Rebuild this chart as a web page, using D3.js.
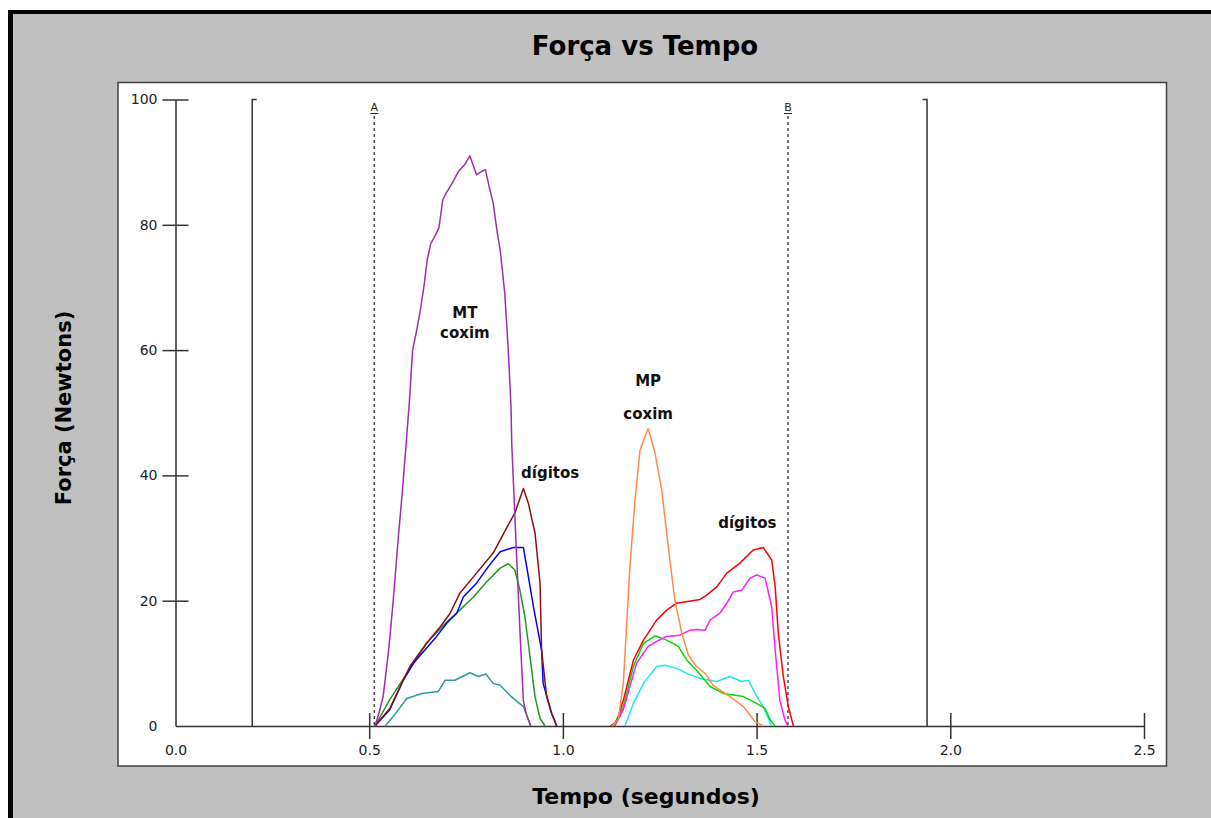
<!DOCTYPE html>
<html>
<head>
<meta charset="utf-8">
<script src="https://cdnjs.cloudflare.com/ajax/libs/d3/7.8.5/d3.min.js"></script>
<style>
  body { margin: 0; background: #fff; }
  svg { display: block; }
  text { font-family: "DejaVu Sans", "Liberation Sans", Arial, sans-serif; }
</style>
</head>
<body>
<div class="canvas"></div>
<script>
//                      DATA
//************************************************************************/
// each series: [tempo (s), força (N)]

// MT coxim (purple)
const mtCoxim = [
  [0.515, 0], [0.525, 2], [0.536, 4.7], [0.55, 12], [0.562, 20], [0.575, 30],
  [0.585, 37], [0.594, 44], [0.604, 52], [0.612, 60], [0.622, 63], [0.631, 66],
  [0.641, 70], [0.65, 74.5], [0.659, 77], [0.668, 78], [0.68, 79.5], [0.69, 84],
  [0.698, 85], [0.713, 86.5], [0.73, 88.5], [0.745, 89.5], [0.76, 91], [0.777, 88],
  [0.79, 88.5], [0.80, 88.8], [0.81, 86], [0.82, 83.5], [0.83, 79], [0.838, 76],
  [0.845, 72], [0.85, 69], [0.855, 64], [0.859, 60], [0.866, 51], [0.868, 45],
  [0.875, 35], [0.882, 25], [0.89, 14], [0.898, 4], [0.905, 2], [0.917, 0]
];
// MT digitos
const mtDigito1 = [ // dark red
  [0.515, 0], [0.553, 2.8], [0.588, 7.3], [0.605, 9.5], [0.648, 13.2], [0.683, 15.8],
  [0.709, 18], [0.734, 21.2], [0.777, 24.4], [0.82, 27.6], [0.859, 32.1], [0.876, 34],
  [0.898, 37.9], [0.911, 35.5], [0.928, 30.8], [0.941, 22.8], [0.945, 12.1],
  [0.958, 4.7], [0.971, 2], [0.984, 0]
];
const mtDigito2 = [ // blue
  [0.515, 0], [0.553, 2.6], [0.588, 7.3], [0.614, 10], [0.674, 14.3], [0.70, 16.4],
  [0.726, 18], [0.743, 20.6], [0.777, 22.8], [0.807, 25.4], [0.838, 27.8], [0.872, 28.5],
  [0.898, 28.5], [0.911, 23.8], [0.924, 19], [0.945, 12.1], [0.949, 6.8],
  [0.971, 2], [0.984, 0]
];
const mtDigito3 = [ // green
  [0.515, 0], [0.553, 4.2], [0.588, 7.5], [0.648, 13.2], [0.70, 16.6], [0.734, 18.5],
  [0.769, 20.6], [0.803, 23], [0.838, 25.2], [0.859, 25.9], [0.876, 24.9], [0.889, 21.7],
  [0.902, 17.4], [0.915, 11.1], [0.928, 4.7], [0.941, 1.2], [0.954, 0]
];
const mtDigito4 = [ // teal
  [0.541, 0], [0.562, 1.5], [0.597, 4.4], [0.636, 5.2], [0.678, 5.5], [0.696, 7.3],
  [0.721, 7.3], [0.76, 8.5], [0.782, 7.9], [0.801, 8.3], [0.82, 6.8], [0.838, 6.5],
  [0.863, 4.9], [0.898, 3.1], [0.917, 0]
];
// MP coxim (orange)
const mpCoxim = [
  [1.126, 0], [1.143, 1], [1.156, 6.8], [1.173, 25.4], [1.186, 36], [1.199, 44],
  [1.22, 47.5], [1.238, 43.5], [1.255, 37.7], [1.272, 28.6], [1.289, 20.1],
  [1.307, 14.8], [1.324, 11.3], [1.345, 9.5], [1.367, 8.4], [1.388, 6.5],
  [1.431, 4.7], [1.466, 3.1], [1.496, 0.7], [1.517, 0]
];
// MP digitos
const mpDigito1 = [ // red
  [1.122, 0], [1.139, 0.7], [1.156, 4.1], [1.182, 10.5], [1.208, 13.7], [1.242, 16.9],
  [1.268, 18.5], [1.294, 19.6], [1.354, 20.2], [1.371, 20.9], [1.397, 22.2],
  [1.423, 24.4], [1.457, 26], [1.491, 28.1], [1.517, 28.5], [1.539, 26.5],
  [1.548, 22.2], [1.556, 14.8], [1.569, 7.9], [1.582, 3.1], [1.595, 0]
];
const mpDigito2 = [ // magenta
  [1.134, 0], [1.156, 2.6], [1.19, 10], [1.22, 12.7], [1.242, 13.5], [1.268, 14.3],
  [1.302, 14.5], [1.328, 15.3], [1.345, 15.4], [1.367, 15.3], [1.38, 16.9],
  [1.405, 18], [1.423, 19.6], [1.44, 21.4], [1.462, 21.7], [1.483, 23.6], [1.50, 24.1],
  [1.522, 23.6], [1.539, 19], [1.548, 12.1], [1.56, 4.1], [1.573, 1], [1.58, 0]
];
const mpDigito3 = [ // lime
  [1.13, 0], [1.156, 3.1], [1.182, 9.5], [1.208, 13.2], [1.238, 14.4], [1.268, 13.7],
  [1.298, 12.7], [1.32, 10.5], [1.345, 8.9], [1.38, 6.3], [1.414, 5.2], [1.466, 4.7],
  [1.50, 3.6], [1.522, 2.8], [1.535, 1], [1.548, 0]
];
const mpDigito4 = [ // cyan
  [1.16, 0], [1.182, 3.6], [1.208, 6.8], [1.242, 9.5], [1.264, 9.7], [1.294, 9.2],
  [1.32, 8.4], [1.354, 7.6], [1.397, 7.1], [1.431, 7.9], [1.462, 7.1], [1.479, 7.3],
  [1.496, 5.2], [1.517, 3.1], [1.539, 0]
];

// axis ticks
const xTicks = [0.0, 0.5, 1.0, 1.5, 2.0, 2.5];
const yTicks = [0, 20, 40, 60, 80, 100];

// cursors (solid) and markers (dashed)
const cursors = [0.198, 1.94];
const markers = [{ t: 0.513, name: 'A' }, { t: 1.581, name: 'B' }];

// text annotations [tempo, forca, texto]
const notes = [
  [0.747, 65.1, 'MT'], [0.747, 61.9, 'coxim'],
  [0.967, 39.6, 'dígitos'],
  [1.22, 54.3, 'MP'], [1.22, 49.0, 'coxim'],
  [1.476, 31.6, 'dígitos']
];

//                      SETUP SVG
//************************************************************************/
const W = 1211, H = 818;
const svg = d3.select('.canvas')
    .append('svg')
    .attr('width', W)
    .attr('height', H);

// window frame
svg.append('rect').attr('width', W).attr('height', H).attr('fill', '#fff');
svg.append('rect').attr('x', 8).attr('y', 10).attr('width', W - 8).attr('height', H - 10).attr('fill', '#000');
svg.append('rect').attr('x', 13).attr('y', 14).attr('width', W - 13).attr('height', H - 14).attr('fill', '#c0c0c0');

// plot box
svg.append('rect')
    .attr('x', 118).attr('y', 82.5)
    .attr('width', 1166.5 - 118).attr('height', 766 - 82.5)
    .attr('fill', '#fff')
    .attr('stroke', '#404040')
    .attr('stroke-width', 1.5);

// scales
const x = d3.scaleLinear().domain([0, 2.5]).range([175.5, 1144]);
const y = d3.scaleLinear().domain([0, 100]).range([726, 99.5]);

// axes
const yAxis = d3.axisLeft(y).tickValues(yTicks).tickSizeOuter(0).tickFormat(d3.format('d'));
const yAxisGroup = svg.append('g').attr('transform', `translate(${x(0)},0)`).call(yAxis);
yAxisGroup.selectAll('.tick line').attr('x1', -13).attr('x2', 13)
    .style('display', d => d === 0 ? 'none' : null);
yAxisGroup.selectAll('.tick text').attr('x', -18);

const xAxis = d3.axisBottom(x).tickValues(xTicks).tickSizeOuter(0).tickFormat(d3.format('.1f'));
const xAxisGroup = svg.append('g').attr('transform', `translate(0,${y(0)})`).call(xAxis);
xAxisGroup.selectAll('.tick line').attr('y1', -13).attr('y2', 13)
    .style('display', d => d === 0 ? 'none' : null);
xAxisGroup.selectAll('.tick text').attr('y', 19);

[yAxisGroup, xAxisGroup].forEach(g => {
    g.select('.domain').attr('stroke', '#333').attr('stroke-width', 1.5);
    g.selectAll('.tick line').attr('stroke', '#333').attr('stroke-width', 1.5);
    g.selectAll('.tick text')
        .attr('fill', '#222')
        .style('font-family', '"DejaVu Sans", sans-serif')
        .style('font-size', '14px');
});

// cursors
cursors.forEach((t, i) => {
    const cx = x(t);
    const hook = i === 0 ? 4.5 : -4.5;
    svg.append('path')
        .attr('d', `M${cx + hook},${y(100)}H${cx}V${y(0)}`)
        .attr('fill', 'none')
        .attr('stroke', '#333')
        .attr('stroke-width', 1.5);
});

// markers A / B
markers.forEach(m => {
    const mx = x(m.t);
    svg.append('line')
        .attr('x1', mx).attr('x2', mx)
        .attr('y1', 116).attr('y2', y(0))
        .attr('stroke', '#333')
        .attr('stroke-width', 1.3)
        .attr('stroke-dasharray', '3,3');
    svg.append('text')
        .attr('x', mx).attr('y', 111)
        .attr('text-anchor', 'middle')
        .style('font-size', '11px')
        .attr('fill', '#222')
        .text(m.name);
    svg.append('line')
        .attr('x1', mx - 4).attr('x2', mx + 4)
        .attr('y1', 113.5).attr('y2', 113.5)
        .attr('stroke', '#222');
});

// lines
const series = [
    { data: mtDigito4, color: '#2e9b9b' },
    { data: mtDigito3, color: '#1f9a1f' },
    { data: mtDigito2, color: '#0000ff' },
    { data: mtDigito1, color: '#8b1111' },
    { data: mtCoxim, color: '#a02cb0' },
    { data: mpDigito4, color: '#1ce6f5' },
    { data: mpDigito3, color: '#00dd00' },
    { data: mpDigito2, color: '#ff1eff' },
    { data: mpDigito1, color: '#ff0000' },
    { data: mpCoxim, color: '#ff8a4a' }
];

const line = d3.line()
    .x(d => x(d[0]))
    .y(d => y(d[1]));

svg.append('g').selectAll('path')
    .data(series)
    .enter()
    .append('path')
    .attr('d', d => line(d.data))
    .attr('fill', 'none')
    .attr('stroke', d => d.color)
    .attr('stroke-width', 1.5)
    .attr('stroke-linejoin', 'round');

// annotations
svg.append('g').selectAll('text')
    .data(notes)
    .enter()
    .append('text')
    .attr('x', d => x(d[0]))
    .attr('y', d => y(d[1]))
    .attr('text-anchor', 'middle')
    .style('font-weight', 'bold')
    .style('font-size', '15px')
    .attr('fill', '#111')
    .text(d => d[2]);

// titles
svg.append('text')
    .attr('x', 645).attr('y', 55)
    .attr('text-anchor', 'middle')
    .style('font-weight', 'bold')
    .style('font-size', '26px')
    .text('Força vs Tempo');

svg.append('text')
    .attr('x', 646).attr('y', 804)
    .attr('text-anchor', 'middle')
    .style('font-weight', 'bold')
    .style('font-size', '22px')
    .text('Tempo (segundos)');

svg.append('text')
    .attr('transform', 'translate(71,408) rotate(-90)')
    .attr('text-anchor', 'middle')
    .style('font-weight', 'bold')
    .style('font-size', '21px')
    .text('Força (Newtons)');
</script>
</body>
</html>
